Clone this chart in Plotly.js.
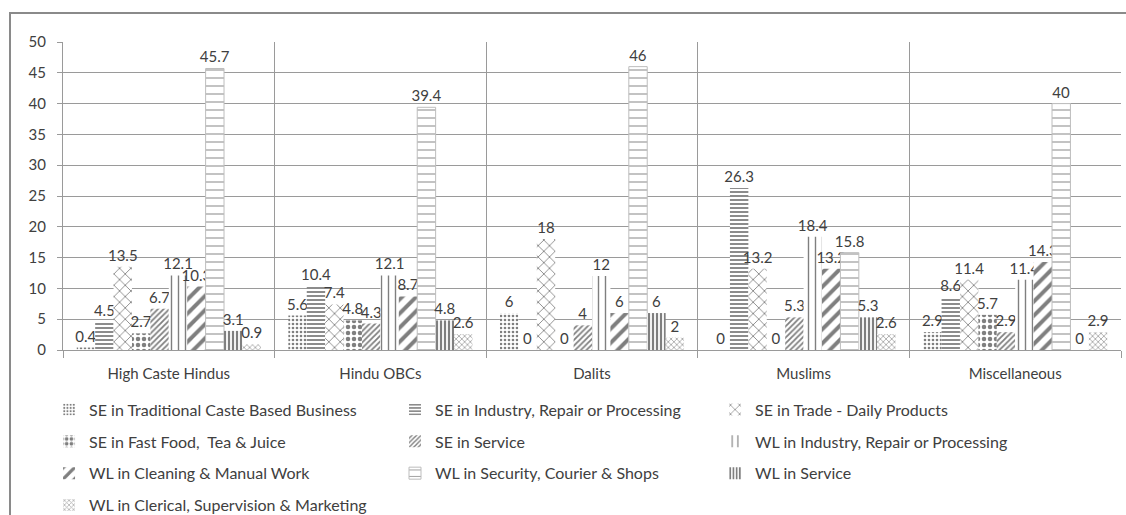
<!DOCTYPE html>
<html>
<head>
<meta charset="utf-8">
<script src="https://cdn.plot.ly/plotly-3.0.1.min.js"></script>
<style>
  html, body { margin: 0; padding: 0; background: #fff; }
  #wrap { position: relative; width: 1126px; height: 515px; overflow: hidden; }
  #frame { position: absolute; left: 9px; top: 12px; width: 1130px; height: 520px; border: 2px solid #8a8a8a; box-sizing: border-box; pointer-events: none; }
  #chart { position: absolute; left: 0; top: 0; width: 1126px; height: 580px; }
</style>
</head>
<body>
<div id="wrap">
  <div id="chart"></div>
  <div id="frame"></div>
</div>
<script>
const categories = ["High Caste Hindus", "Hindu OBCs", "Dalits", "Muslims", "Miscellaneous"];

const seriesNames = [
  "SE in Traditional Caste Based Business",
  "SE in Industry, Repair or Processing",
  "SE in Trade - Daily Products",
  "SE in Fast Food,  Tea & Juice",
  "SE in Service",
  "WL in Industry, Repair or Processing",
  "WL in Cleaning & Manual Work",
  "WL in Security, Courier & Shops",
  "WL in Service",
  "WL in Clerical, Supervision & Marketing"
];

const seTraditional = [0.4, 5.6, 6, 0, 2.9];
const seIndustry    = [4.5, 10.4, 0, 26.3, 8.6];
const seTrade       = [13.5, 7.4, 18, 13.2, 11.4];
const seFastFood    = [2.7, 4.8, 0, 0, 5.7];
const seService     = [6.7, 4.3, 4, 5.3, 2.9];
const wlIndustry    = [12.1, 12.1, 12, 18.4, 11.4];
const wlCleaning    = [10.3, 8.7, 6, 13.2, 14.3];
const wlSecurity    = [45.7, 39.4, 46, 15.8, 40];
const wlService     = [3.1, 4.8, 6, 5.3, 0];
const wlClerical    = [0.9, 2.6, 2, 2.6, 2.9];

const yTicks = [0, 5, 10, 15, 20, 25, 30, 35, 40, 45, 50];

const seriesValues = [seTraditional, seIndustry, seTrade, seFastFood, seService,
                      wlIndustry, wlCleaning, wlSecurity, wlService, wlClerical];

const patterns = [
  {shape: ".", size: 4, solidity: 0.35, fgcolor: "#000"},
  {shape: "-", size: 4, solidity: 0.45, fgcolor: "#000"},
  {shape: "x", size: 8, solidity: 0.2, fgcolor: "#000"},
  {shape: ".", size: 6, solidity: 0.45, fgcolor: "#000"},
  {shape: "/", size: 4, solidity: 0.45, fgcolor: "#000"},
  {shape: "|", size: 7, solidity: 0.2, fgcolor: "#000"},
  {shape: "/", size: 10, solidity: 0.4, fgcolor: "#000"},
  {shape: "-", size: 8, solidity: 0.15, fgcolor: "#333"},
  {shape: "|", size: 4, solidity: 0.55, fgcolor: "#000"},
  {shape: "x", size: 4, solidity: 0.4, fgcolor: "#555"}
];

const legendOf = ["legend", "legend2", "legend3", "legend", "legend2", "legend3",
                  "legend", "legend2", "legend3", "legend"];

const FONT = "Lato, 'Open Sans', sans-serif";
const TXT = "#404040";

const traces = seriesValues.map((vals, i) => ({
  type: "bar",
  name: seriesNames[i],
  x: categories,
  y: vals,
  legend: legendOf[i],
  legendgroup: "g" + i,
  marker: {
    color: "#ffffff",
    pattern: Object.assign({bgcolor: "#ffffff", fillmode: "overlay"}, patterns[i]),
    line: {width: i === 7 ? 1 : 0, color: "#bdbdbd"}
  },
  text: vals.map(v => String(v)),
  texttemplate: "%{text}",
  textposition: "outside",
  textangle: 0,
  constraintext: "none",
  cliponaxis: false,
  textfont: {family: FONT, size: 15, color: TXT},
  hoverinfo: "x+y+name"
}));

const legendBase = {
  orientation: "v",
  yanchor: "top",
  xanchor: "left",
  y: -0.1385,
  bgcolor: "rgba(0,0,0,0)",
  borderwidth: 0,
  font: {family: FONT, size: 16, color: TXT},
  tracegroupgap: 8,
  traceorder: "grouped",
  itemwidth: 30
};

const layout = {
  width: 1126,
  height: 580,
  margin: {l: 63, r: 5, t: 42, b: 230},
  paper_bgcolor: "rgba(0,0,0,0)",
  plot_bgcolor: "#ffffff",
  barmode: "group",
  bargap: 0.13,
  bargroupgap: 0,
  showlegend: true,
  font: {family: FONT, size: 15, color: TXT},
  xaxis: {
    type: "category",
    tickson: "boundaries",
    showgrid: true,
    gridcolor: "#9a9a9a",
    gridwidth: 1,
    ticks: "outside",
    ticklen: 7,
    tickcolor: "#9a9a9a",
    ticklabelstandoff: 10,
    showline: true,
    linecolor: "#9a9a9a",
    linewidth: 1,
    tickfont: {family: FONT, size: 15, color: TXT},
    fixedrange: true
  },
  yaxis: {
    range: [0, 50],
    tickvals: yTicks,
    ticktext: yTicks.map(String),
    showgrid: true,
    gridcolor: "#9a9a9a",
    gridwidth: 1,
    zeroline: false,
    showline: true,
    linecolor: "#9a9a9a",
    ticks: "outside",
    ticklen: 5,
    tickcolor: "#9a9a9a",
    ticklabelstandoff: 8,
    tickfont: {family: FONT, size: 15, color: TXT},
    fixedrange: true
  },
  legend: Object.assign({}, legendBase, {x: -0.0132}),
  legend2: Object.assign({}, legendBase, {x: 0.3138}),
  legend3: Object.assign({}, legendBase, {x: 0.6163})
};

Plotly.newPlot("chart", traces, layout, {displayModeBar: false});
</script>
</body>
</html>
